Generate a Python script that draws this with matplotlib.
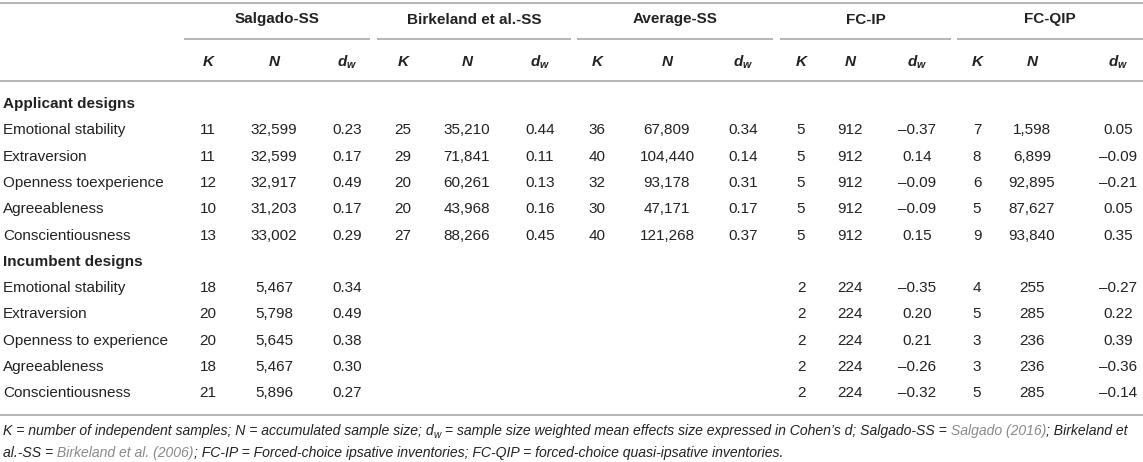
import matplotlib
matplotlib.use('Agg')
import matplotlib.pyplot as plt
from matplotlib import font_manager

# ---------------- data ----------------
groups = ['Salgado-SS', 'Birkeland et al.-SS', 'Average-SS', 'FC-IP', 'FC-QIP']
sections = ['Applicant designs', 'Incumbent designs']
applicant_traits = ['Emotional stability', 'Extraversion', 'Openness toexperience',
                    'Agreeableness', 'Conscientiousness']
incumbent_traits = ['Emotional stability', 'Extraversion', 'Openness to experience',
                    'Agreeableness', 'Conscientiousness']

# Applicant designs
app_salgado_K = [11, 11, 12, 10, 13]
app_salgado_N = [32599, 32599, 32917, 31203, 33002]
app_salgado_d = [0.23, 0.17, 0.49, 0.17, 0.29]
app_birkeland_K = [25, 29, 20, 20, 27]
app_birkeland_N = [35210, 71841, 60261, 43968, 88266]
app_birkeland_d = [0.44, 0.11, 0.13, 0.16, 0.45]
app_average_K = [36, 40, 32, 30, 40]
app_average_N = [67809, 104440, 93178, 47171, 121268]
app_average_d = [0.34, 0.14, 0.31, 0.17, 0.37]
app_fcip_K = [5, 5, 5, 5, 5]
app_fcip_N = [912, 912, 912, 912, 912]
app_fcip_d = [-0.37, 0.14, -0.09, -0.09, 0.15]
app_fcqip_K = [7, 8, 6, 5, 9]
app_fcqip_N = [1598, 6899, 92895, 87627, 93840]
app_fcqip_d = [0.05, -0.09, -0.21, 0.05, 0.35]

# Incumbent designs
inc_salgado_K = [18, 20, 20, 18, 21]
inc_salgado_N = [5467, 5798, 5645, 5467, 5896]
inc_salgado_d = [0.34, 0.49, 0.38, 0.30, 0.27]
inc_birkeland_K = [None] * 5
inc_birkeland_N = [None] * 5
inc_birkeland_d = [None] * 5
inc_average_K = [None] * 5
inc_average_N = [None] * 5
inc_average_d = [None] * 5
inc_fcip_K = [2, 2, 2, 2, 2]
inc_fcip_N = [224, 224, 224, 224, 224]
inc_fcip_d = [-0.35, 0.20, 0.21, -0.26, -0.32]
inc_fcqip_K = [4, 5, 3, 3, 5]
inc_fcqip_N = [255, 285, 236, 236, 285]
inc_fcqip_d = [-0.27, 0.22, 0.39, -0.36, -0.14]

applicant_cols = [(app_salgado_K, app_salgado_N, app_salgado_d),
                  (app_birkeland_K, app_birkeland_N, app_birkeland_d),
                  (app_average_K, app_average_N, app_average_d),
                  (app_fcip_K, app_fcip_N, app_fcip_d),
                  (app_fcqip_K, app_fcqip_N, app_fcqip_d)]
incumbent_cols = [(inc_salgado_K, inc_salgado_N, inc_salgado_d),
                  (inc_birkeland_K, inc_birkeland_N, inc_birkeland_d),
                  (inc_average_K, inc_average_N, inc_average_d),
                  (inc_fcip_K, inc_fcip_N, inc_fcip_d),
                  (inc_fcqip_K, inc_fcqip_N, inc_fcqip_d)]

# ---------------- styling / layout ----------------
names = {f.name for f in font_manager.fontManager.ttflist}
BASE = 'Liberation Sans'
FOOT = 'Liberation Sans Narrow' if 'Liberation Sans Narrow' in names else 'Liberation Sans'

plt.rcParams['mathtext.fontset'] = 'custom'
plt.rcParams['mathtext.it'] = 'Liberation Sans:italic:bold'
plt.rcParams['mathtext.rm'] = 'Liberation Sans'
plt.rcParams['mathtext.bf'] = 'Liberation Sans:bold'

W, H = 1143, 462
TXT = '#222222'
LINE = '#b4b4b4'
FS = 11.0
LW = 1.4

col_x = [[208, 274, 347], [403, 467, 540], [597, 667, 743],
         [801, 850, 917], [977, 1032, 1118]]
underline_span = [(184, 370), (377, 571), (577, 773), (780, 951), (957, 1143)]

fig = plt.figure(figsize=(W / 100, H / 100), dpi=100)
ax = fig.add_axes([0, 0, 1, 1])
ax.set_xlim(0, W)
ax.set_ylim(H, 0)
ax.axis('off')


def fmt_N(v):
    return '' if v is None else f'{v:,}'


def fmt_d(v):
    if v is None:
        return ''
    s = f'{abs(v):.2f}'
    return ('\u2013' + s) if v < 0 else s


def fmt_K(v):
    return '' if v is None else str(v)


# rules
for y in (3, 81, 415):
    ax.plot([0, W], [y, y], color=LINE, lw=LW, solid_capstyle='butt')
for (a, b) in underline_span:
    ax.plot([a, b], [39, 39], color=LINE, lw=LW, solid_capstyle='butt')

# group headers
for g, (a, b) in zip(groups, underline_span):
    ax.text((a + b) / 2, 19.5, g, ha='center', va='center', fontsize=FS,
            family=BASE, weight='bold', color=TXT)

# sub headers
sub_labels = ['K', 'N', r'$d_w$']
for cols in col_x:
    for x, lab in zip(cols, sub_labels):
        ax.text(x, 62, lab, ha='center', va='center', fontsize=FS, family=BASE,
                weight='bold', style='italic', color=TXT)

# body
row_step = 26.3
y = 104
for sec, traits, cols in ((sections[0], applicant_traits, applicant_cols),
                          (sections[1], incumbent_traits, incumbent_cols)):
    ax.text(3, y, sec, ha='left', va='center', fontsize=FS, family=BASE,
            weight='bold', color=TXT)
    y += row_step
    for i, tr in enumerate(traits):
        ax.text(3, y, tr, ha='left', va='center', fontsize=FS, family=BASE, color=TXT)
        for (Ks, Ns, Ds), xs in zip(cols, col_x):
            for x, s in zip(xs, (fmt_K(Ks[i]), fmt_N(Ns[i]), fmt_d(Ds[i]))):
                if s:
                    ax.text(x, y, s, ha='center', va='center', fontsize=FS,
                            family=BASE, color=TXT)
        y += row_step

# footnote (mixed colours, italic)
GRAY = '#8a8a8a'
line1 = [("K = number of independent samples; N = accumulated sample size;", TXT, 1.0, 0),
         (" d", TXT, 1.0, 0), ("w", TXT, 0.72, 3),
         (" = sample size weighted mean effects size expressed in Cohen\u2019s d; Salgado-SS =", TXT, 1.0, 0),
         (" Salgado (2016)", GRAY, 1.0, 0),
         ("; Birkeland et", TXT, 1.0, 0)]
line2 = [("al.-SS =", TXT, 1.0, 0),
         (" Birkeland et al. (2006)", GRAY, 1.0, 0),
         ("; FC-IP = Forced-choice ipsative inventories; FC-QIP = forced-choice quasi-ipsative inventories.", TXT, 1.0, 0)]

renderer = fig.canvas.get_renderer()


def draw_runs(ybase, runs, size, x0=3):
    x = x0
    arts = []
    for txt, color, rel, dy in runs:
        t = ax.text(x, ybase + dy, txt, ha='left', va='baseline', fontsize=size * rel,
                    family=FOOT, style='italic', color=color)
        bb = t.get_window_extent(renderer)
        x += bb.width
        arts.append(t)
    return x - x0, arts


f0 = 10.5
w, arts = draw_runs(435, line1, f0)
for a in arts:
    a.remove()
fsz = f0 * (1137 / w)
draw_runs(435, line1, fsz)
draw_runs(457, line2, fsz)

fig.savefig('out.png', dpi=100)
